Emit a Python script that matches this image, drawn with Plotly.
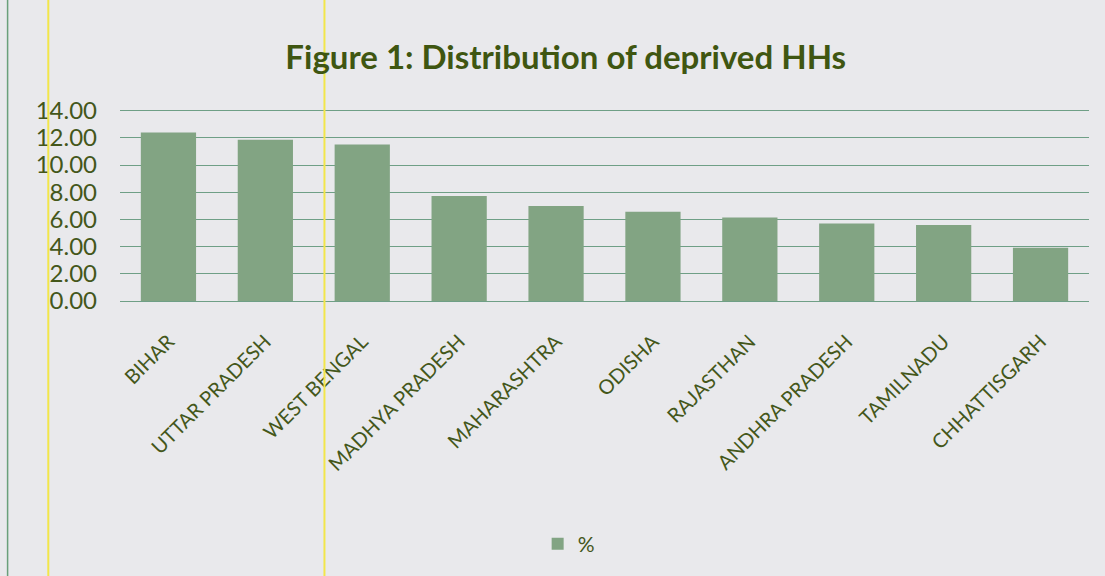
import plotly.graph_objects as go

states = ["BIHAR", "UTTAR PRADESH", "WEST BENGAL", "MADHYA PRADESH", "MAHARASHTRA",
          "ODISHA", "RAJASTHAN", "ANDHRA PRADESH", "TAMILNADU", "CHHATTISGARH"]
pct = [12.40, 11.86, 11.51, 7.73, 6.99, 6.57, 6.15, 5.71, 5.59, 3.91]
y_ticks = [0, 2, 4, 6, 8, 10, 12, 14]
y_tick_text = ["0.00", "2.00", "4.00", "6.00", "8.00", "10.00", "12.00", "14.00"]

txt = "#44571a"
fig = go.Figure(go.Bar(
    x=states, y=pct, name="%",
    marker=dict(color="#82a483", line=dict(width=0)),
))
fig.update_layout(
    width=1105, height=576,
    paper_bgcolor="#e9e9ec", plot_bgcolor="#e9e9ec",
    margin=dict(l=120, r=16, t=108, b=275),
    title=dict(text="<b>Figure 1: Distribution of deprived HHs</b>",
               x=0.512, xanchor="center", y=0.9, yanchor="middle",
               font=dict(family="Lato", size=33, color="#3f5611")),
    bargap=0.43,
    showlegend=True,
    legend=dict(orientation="h", x=0.463, xanchor="center", y=-1.26, yanchor="middle",
                font=dict(family="Lato", size=21, color=txt), bgcolor="rgba(0,0,0,0)"),
    font=dict(family="Lato", color=txt),
)
fig.update_xaxes(tickangle=-45, tickfont=dict(family="Lato", size=20, color=txt),
                 ticklabelstandoff=20,
                 showline=True, linecolor="#6f9f86", linewidth=1, ticks="")
fig.update_yaxes(range=[0, 14.2], tickvals=y_ticks, ticktext=y_tick_text,
                 tickfont=dict(family="Lato", size=24, color=txt), ticklabelstandoff=22,
                 showgrid=True, gridcolor="#6f9f86", gridwidth=1, zeroline=False, ticks="")
fig.add_shape(type="line", xref="paper", yref="paper", x0=-0.116, x1=-0.116, y0=-1.6, y1=1.6,
              line=dict(color="#6aa07a", width=1.5))
for xp in [-0.074, 0.211]:
    fig.add_shape(type="line", xref="paper", yref="paper", x0=xp, x1=xp, y0=-1.6, y1=1.6,
                  line=dict(color="#f2e64a", width=2))
fig.write_html("out.html")
